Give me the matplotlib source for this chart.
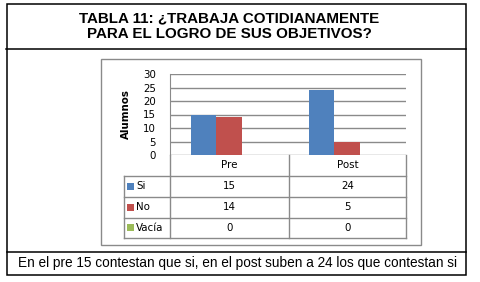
import numpy as np
import matplotlib
matplotlib.use("Agg")
import matplotlib.pyplot as plt
from matplotlib.lines import Line2D
from matplotlib.patches import Rectangle

## data
categories = ["Pre", "Post"]
series_names = ["Si", "No", "Vacía"]
si_values = [15, 24]
no_values = [14, 5]
vacia_values = [0, 0]
y_ticks = [0, 5, 10, 15, 20, 25, 30]
title_lines = ["TABLA 11: ¿TRABAJA COTIDIANAMENTE", "PARA EL LOGRO DE SUS OBJETIVOS?"]
footer_text = "En el pre 15 contestan que si, en el post suben a 24 los que contestan si"

colors = ["#4F81BD", "#C0504D", "#9BBB59"]
grid_grey = "#8a8a8a"
W, H = 480, 282

fig = plt.figure(figsize=(W/100, H/100), dpi=100)

## pixel -> figure fraction
def fx(x): return x / W
def fy(y): return 1 - y / H

def hline(x0, x1, y, color="black", lw=1.0):
    fig.add_artist(Line2D([fx(x0), fx(x1)], [fy(y), fy(y)], color=color, lw=lw))

def vline(x, y0, y1, color="black", lw=1.0):
    fig.add_artist(Line2D([fx(x), fx(x)], [fy(y0), fy(y1)], color=color, lw=lw))

# outer frame
fig.add_artist(Rectangle((fx(7), fy(275)), fx(466) - fx(7), fy(4) - fy(275),
                         fill=False, edgecolor="black", lw=1.1))
hline(6, 466, 49, lw=1.1)
hline(7, 466, 252, lw=1.1)

# title and footer
fig.text(fx(229), fy(18), title_lines[0], ha="center", va="center",
         family="Liberation Sans", weight="bold", fontsize=10.9)
fig.text(fx(229), fy(34), title_lines[1], ha="center", va="center",
         family="Liberation Sans", weight="bold", fontsize=10.9)
fig.text(fx(237.5), fy(263.5), footer_text, ha="center", va="center",
         family="Liberation Sans", fontsize=9.8)

# chart area border
fig.add_artist(Rectangle((fx(101), fy(245)), fx(421) - fx(101), fy(59) - fy(245),
                         fill=False, edgecolor=grid_grey, lw=1.0))

# plot area
left, right, top, bottom = 170, 406, 74, 155
ax = fig.add_axes([fx(left), fy(bottom), fx(right) - fx(left), fy(top) - fy(bottom)])
x = np.arange(len(categories))
bw = 0.214
all_values = [si_values, no_values, vacia_values]
for i, vals in enumerate(all_values):
    ax.bar(x + (i - 1) * bw, vals, width=bw, color=colors[i], zorder=3)
ax.set_xlim(-0.5, len(categories) - 0.5)
ax.set_ylim(0, 30)
ax.set_yticks(y_ticks)
ax.set_yticklabels([str(t) for t in y_ticks], fontsize=7.4, family="DejaVu Sans")
ax.tick_params(axis="y", length=0, pad=10)
ax.set_xticks([])
for t in y_ticks:
    ax.axhline(t, color=grid_grey, lw=1.0, zorder=1)
for s in ["top", "right", "bottom"]:
    ax.spines[s].set_visible(False)
ax.spines["left"].set_color(grid_grey)
ax.set_facecolor("none")
fig.text(fx(126), fy(114), "Alumnos", rotation=90, ha="center", va="center",
         weight="bold", fontsize=7.4, family="DejaVu Sans")

# data table under the plot
rows_y = [155, 176, 196.7, 217.5, 238]
col_x = [124, 170, 289, 406]
for y in rows_y[1:]:
    hline(col_x[0], col_x[-1], y, color=grid_grey)
for xc in col_x[1:]:
    vline(xc, rows_y[0], rows_y[-1], color=grid_grey)
vline(col_x[0], rows_y[1], rows_y[-1], color=grid_grey)

tfont = dict(fontsize=7.4, family="DejaVu Sans", va="center")
for j, cat in enumerate(categories):
    cx = (col_x[j + 1] + col_x[j + 2]) / 2
    fig.text(fx(cx), fy((rows_y[0] + rows_y[1]) / 2), cat, ha="center", **tfont)
    for i, vals in enumerate(all_values):
        fig.text(fx(cx), fy((rows_y[i + 1] + rows_y[i + 2]) / 2), str(vals[j]), ha="center", **tfont)

for i, name in enumerate(series_names):
    cy = (rows_y[i + 1] + rows_y[i + 2]) / 2
    fig.add_artist(Rectangle((fx(127), fy(cy + 3.5)), fx(7), 7 / H,
                             facecolor=colors[i], edgecolor="none"))
    fig.text(fx(136), fy(cy), name, ha="left", **tfont)

fig.savefig("out.png", dpi=100)
